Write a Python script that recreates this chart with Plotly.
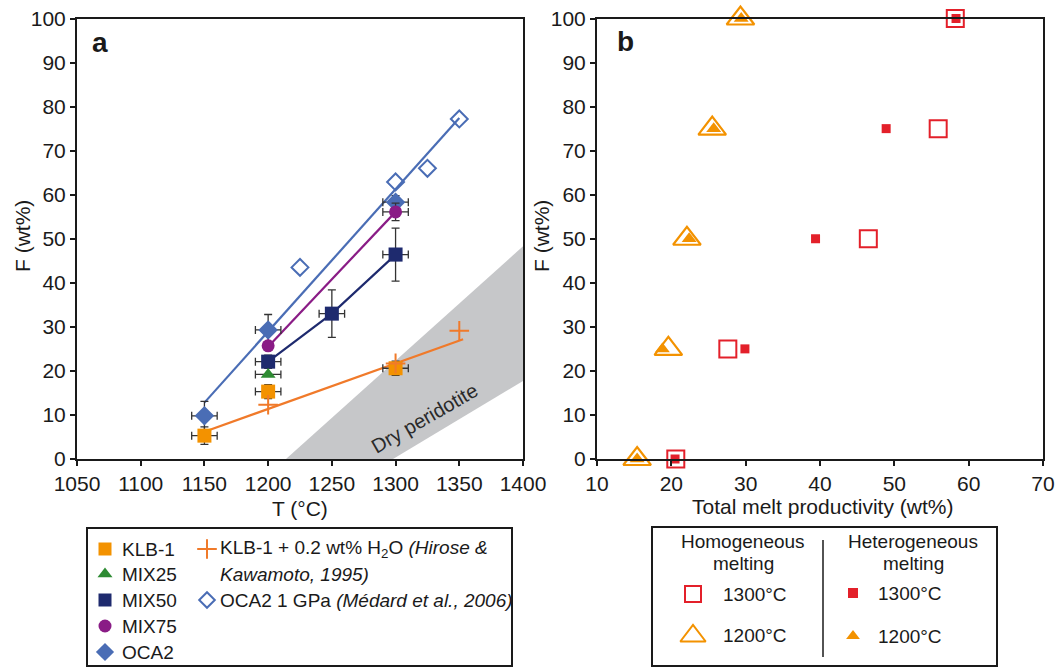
import plotly.graph_objects as go

# ---------------- data: panel a ----------------
klb_T = [1150, 1200, 1300]
klb_F = [5.3, 15.3, 20.6]
klb_eF = [2.0, 1.6, 1.6]
mix25_T = [1200]
mix25_F = [19.2]
mix50_T = [1200, 1250, 1300]
mix50_F = [22.1, 33.0, 46.4]
mix50_eF = [1.5, 5.4, 6.0]
mix75_T = [1200, 1300]
mix75_F = [25.7, 56.1]
mix75_eF = [0, 2.0]
oca2_T = [1150, 1200, 1300]
oca2_F = [9.8, 29.3, 58.3]
oca2_eF = [3.3, 3.5, 1.5]
err_T = 10
klbw_T = [1200, 1300, 1350]
klbw_F = [12.3, 21.7, 29.1]
medard_T = [1225, 1300, 1325, 1350]
medard_F = [43.5, 62.9, 66.0, 77.2]
fit_oca2_T = [1150, 1350]
fit_oca2_F = [12.8, 77.4]
fit_mix75_T = [1200, 1300]
fit_mix75_F = [25.5, 56.1]
fit_klb_T = [1150, 1353]
fit_klb_F = [6.2, 27.2]
dry_T = [1214, 1400, 1400, 1298]
dry_F = [0, 48.3, 17.7, 0]

# ---------------- data: panel b ----------------
F_levels = [100, 75, 50, 25, 0]
homo1300 = [58.2, 55.9, 46.5, 27.6, 20.6]
hetero1300 = [58.3, 48.9, 39.4, 29.9, 20.5]
homo1200 = [29.3, 25.5, 22.1, 19.6, 15.4]
hetero1200 = [29.4, 25.7, 22.4, 18.8, 15.4]

xticks_a = [1050, 1100, 1150, 1200, 1250, 1300, 1350, 1400]
yticks = [0, 10, 20, 30, 40, 50, 60, 70, 80, 90, 100]
xticks_b = [10, 20, 30, 40, 50, 60, 70]

ORANGE = "#F39200"
ORANGE_LINE = "#F07A2A"
RED = "#E3202A"
NAVY = "#1E2A6E"
PURPLE = "#8A1C86"
BLUE = "#4A6DB5"
GREEN = "#2E8B33"
GRAY = "#C6C7C9"
ERR = "#333333"
FONT = "Liberation Sans, Arial, sans-serif"

fig = go.Figure()

def err(vals):
    return dict(type="data", array=vals, color=ERR, thickness=1.3, width=4)

# dry peridotite band
fig.add_trace(go.Scatter(x=dry_T, y=dry_F, fill="toself", fillcolor=GRAY, mode="none",
                         xaxis="x", yaxis="y", hoverinfo="skip"))
# fit lines
fig.add_trace(go.Scatter(x=fit_oca2_T, y=fit_oca2_F, mode="lines", line=dict(color=BLUE, width=2.2), xaxis="x", yaxis="y"))
fig.add_trace(go.Scatter(x=fit_mix75_T, y=fit_mix75_F, mode="lines", line=dict(color=PURPLE, width=2.2), xaxis="x", yaxis="y"))
fig.add_trace(go.Scatter(x=mix50_T, y=mix50_F, mode="lines", line=dict(color=NAVY, width=2.2), xaxis="x", yaxis="y"))
fig.add_trace(go.Scatter(x=fit_klb_T, y=fit_klb_F, mode="lines", line=dict(color=ORANGE_LINE, width=2.2), xaxis="x", yaxis="y"))

# markers with error bars
fig.add_trace(go.Scatter(x=oca2_T, y=oca2_F, mode="markers", xaxis="x", yaxis="y",
                         marker=dict(symbol="diamond", size=15, color=BLUE),
                         error_y=err(oca2_eF), error_x=err([err_T]*3)))
fig.add_trace(go.Scatter(x=mix75_T, y=mix75_F, mode="markers", xaxis="x", yaxis="y",
                         marker=dict(symbol="circle", size=13, color=PURPLE),
                         error_y=err(mix75_eF), error_x=err([0, err_T])))
fig.add_trace(go.Scatter(x=mix50_T, y=mix50_F, mode="markers", xaxis="x", yaxis="y",
                         marker=dict(symbol="square", size=14, color=NAVY),
                         error_y=err(mix50_eF), error_x=err([err_T]*3)))
fig.add_trace(go.Scatter(x=mix25_T, y=mix25_F, mode="markers", xaxis="x", yaxis="y",
                         marker=dict(symbol="triangle-up", size=13, color=GREEN),
                         error_x=err([err_T])))
fig.add_trace(go.Scatter(x=klb_T, y=klb_F, mode="markers", xaxis="x", yaxis="y",
                         marker=dict(symbol="square", size=14, color=ORANGE),
                         error_y=err(klb_eF), error_x=err([err_T]*3)))
fig.add_trace(go.Scatter(x=klbw_T, y=klbw_F, mode="markers", xaxis="x", yaxis="y",
                         marker=dict(symbol="cross-thin", size=14, line=dict(color=ORANGE_LINE, width=2))))
fig.add_trace(go.Scatter(x=medard_T, y=medard_F, mode="markers", xaxis="x", yaxis="y",
                         marker=dict(symbol="diamond-open", size=13, color=BLUE, line=dict(width=2))))

# panel b
fig.add_trace(go.Scatter(x=homo1200, y=F_levels, mode="markers", xaxis="x2", yaxis="y2", cliponaxis=False,
                         marker=dict(symbol="triangle-up-open", size=24, color=ORANGE, line=dict(width=2.2))))
fig.add_trace(go.Scatter(x=hetero1200, y=F_levels, mode="markers", xaxis="x2", yaxis="y2", cliponaxis=False,
                         marker=dict(symbol="triangle-up", size=13, color=ORANGE)))
fig.add_trace(go.Scatter(x=homo1300, y=F_levels, mode="markers", xaxis="x2", yaxis="y2", cliponaxis=False,
                         marker=dict(symbol="square-open", size=17, color=RED, line=dict(width=2))))
fig.add_trace(go.Scatter(x=hetero1300, y=F_levels, mode="markers", xaxis="x2", yaxis="y2", cliponaxis=False,
                         marker=dict(symbol="square", size=9, color=RED)))

# legend symbols on a pixel overlay axis
leg_items = [
    (105, 549, "square", ORANGE, 13, None),
    (105, 574, "triangle-up", GREEN, 13, None),
    (105, 600, "square", NAVY, 13, None),
    (105, 626, "circle", PURPLE, 13, None),
    (105, 652, "diamond", BLUE, 14, None),
    (207, 549, "cross-thin", ORANGE_LINE, 14, 2),
    (207, 600, "diamond-open", BLUE, 12, 2),
    (693, 594, "square-open", RED, 16, 2),
    (693, 636, "triangle-up-open", ORANGE, 22, 2),
    (853, 593, "square", RED, 10, None),
    (853, 636, "triangle-up", ORANGE, 12, None),
]
for lx, ly, sym, col, sz, lw in leg_items:
    m = dict(symbol=sym, size=sz, color=col)
    if lw:
        m["line"] = dict(color=col, width=lw)
    fig.add_trace(go.Scatter(x=[lx], y=[ly], mode="markers", xaxis="x3", yaxis="y3",
                             marker=m, cliponaxis=False, hoverinfo="skip"))

axis_common = dict(showline=True, linecolor="#1a1a1a", linewidth=2, mirror=True,
                   ticks="outside", ticklen=5, tickwidth=1.5, tickcolor="#1a1a1a",
                   showgrid=False, zeroline=False, automargin=False,
                   tickfont=dict(family=FONT, size=21, color="#1a1a1a"))

fig.update_layout(
    width=1062, height=667, margin=dict(l=0, r=0, t=0, b=0, autoexpand=False),
    paper_bgcolor="white", plot_bgcolor="rgba(0,0,0,0)", showlegend=False,
    font=dict(family=FONT, color="#1a1a1a"), hovermode=False,
    xaxis=dict(domain=[77/1062, 523/1062], range=[1050, 1400], tickvals=xticks_a, anchor="y", **axis_common),
    yaxis=dict(domain=[(667-459)/667, (667-18.5)/667], range=[0, 100], tickvals=yticks, anchor="x", **axis_common),
    xaxis2=dict(domain=[597/1062, 1043/1062], range=[10, 70], tickvals=xticks_b, anchor="y2", **axis_common),
    yaxis2=dict(domain=[(667-459)/667, (667-18.5)/667], range=[0, 100], tickvals=yticks, anchor="x2", **axis_common),
    xaxis3=dict(domain=[0, 1], range=[0, 1062], visible=False, anchor="y3", automargin=False),
    yaxis3=dict(domain=[0, 1], range=[667, 0], visible=False, anchor="x3", automargin=False),
)

def px(x):
    return x / 1062

def py(y):
    return 1 - y / 667

ann = []
def text(x, y, s, size=19, xanchor="center", angle=0, bold=False, color="#1a1a1a"):
    ann.append(dict(x=px(x), y=py(y), xref="paper", yref="paper", text=("<b>%s</b>" % s) if bold else s,
                    showarrow=False, xanchor=xanchor, yanchor="middle", textangle=angle,
                    font=dict(family=FONT, size=size, color=color)))

text(100, 43, "a", size=28, bold=True)
text(625, 41, "b", size=28, bold=True)
text(300, 508, "T (°C)", size=21)
text(822, 506, "Total melt productivity (wt%)", size=21)
text(23, 236, "F (wt%)", size=21, angle=-90)
text(542, 236, "F (wt%)", size=21, angle=-90)
ann.append(dict(x=1323, y=9.3, xref="x", yref="y", text="Dry peridotite", showarrow=False,
                textangle=-30, font=dict(family=FONT, size=20, color="#2a2a2a")))

# legend a text
for ty, s in [(549, "KLB-1"), (574, "MIX25"), (600, "MIX50"), (626, "MIX75"), (652, "OCA2")]:
    text(120, ty, s, size=19, xanchor="left")
text(218, 549, "KLB-1 + 0.2 wt% H<sub>2</sub>O <i>(Hirose &amp;</i>", size=19, xanchor="left")
text(218, 574, "<i>Kawamoto, 1995)</i>", size=19, xanchor="left")
text(218, 600, "OCA2 1 GPa <i>(Médard et al., 2006)</i>", size=19, xanchor="left")

# legend b text
text(743, 541, "Homogeneous", size=19)
text(743, 563, "melting", size=19)
text(913, 541, "Heterogeneous", size=19)
text(913, 563, "melting", size=19)
text(721, 594, "1300°C", size=19, xanchor="left")
text(721, 635, "1200°C", size=19, xanchor="left")
text(876, 593, "1300°C", size=19, xanchor="left")
text(876, 636, "1200°C", size=19, xanchor="left")

fig.update_layout(annotations=ann)

shapes = [
    dict(type="rect", xref="paper", yref="paper", x0=px(87), x1=px(512), y0=py(666), y1=py(528),
         line=dict(color="#1a1a1a", width=2)),
    dict(type="rect", xref="paper", yref="paper", x0=px(652), x1=px(997), y0=py(666), y1=py(527),
         line=dict(color="#1a1a1a", width=2)),
    dict(type="line", xref="paper", yref="paper", x0=px(823), x1=px(823), y0=py(657), y1=py(540),
         line=dict(color="#1a1a1a", width=1.5)),
]
fig.update_layout(shapes=shapes)

fig.write_html("out.html", config={"displayModeBar": False},
               post_script="document.body.style.margin='0';document.body.style.padding='0';document.body.style.overflow='hidden';")
